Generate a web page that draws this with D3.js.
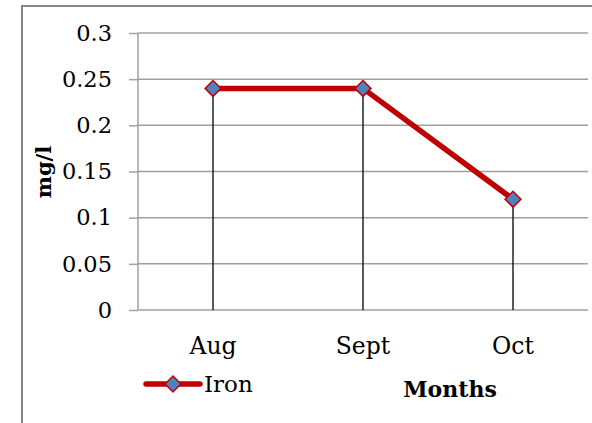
<!DOCTYPE html>
<html>
<head>
<meta charset="utf-8">
<script src="https://cdn.jsdelivr.net/npm/d3@7"></script>
<style>
  body { margin: 0; background: #fff; }
  text { font-family: "DejaVu Serif", serif; fill: #000; }
</style>
</head>
<body>
<div id="chart"></div>
<script>
// chart values
const months = ['Aug', 'Sept', 'Oct'];
const iron = [0.24, 0.24, 0.12];
const yTicks = [0, 0.05, 0.1, 0.15, 0.2, 0.25, 0.3];

const W = 592, H = 423;
const svg = d3.select('#chart').append('svg').attr('width', W).attr('height', H);

// outer chart border (runs off right and bottom edges)
svg.append('rect')
  .attr('x', 22).attr('y', 6)
  .attr('width', 600).attr('height', 440)
  .attr('fill', 'none').attr('stroke', '#878787').attr('stroke-width', 2);

const plotL = 138, plotR = 588, plotT = 33, plotB = 310;

const x = d3.scaleBand().domain(months).range([plotL, plotR]);
const y = d3.scaleLinear().domain([0, 0.3]).range([plotB, plotT]);

// y axis ticks + labels
const yAxis = svg.append('g').attr('transform', 'translate(' + plotL + ',0)')
  .call(d3.axisLeft(y).tickValues(yTicks).tickSize(9).tickPadding(17)
    .tickFormat(d => String(+d.toFixed(2))));
yAxis.select('.domain').remove();
yAxis.selectAll('line').attr('stroke', '#a0a0a0').attr('stroke-width', 1.5);
yAxis.selectAll('text').attr('font-size', 22.5).attr('font-family', '"DejaVu Serif", serif');

// gridlines
svg.append('g').selectAll('line').data(yTicks).enter().append('line')
  .attr('x1', plotL).attr('x2', plotR)
  .attr('y1', d => y(d)).attr('y2', d => y(d))
  .attr('stroke', '#a0a0a0').attr('stroke-width', 1.5);

svg.append('line')
  .attr('x1', plotL).attr('x2', plotL).attr('y1', plotT).attr('y2', plotB)
  .attr('stroke', '#a0a0a0').attr('stroke-width', 1.5);

// x labels
svg.append('g').selectAll('text').data(months).enter().append('text')
  .attr('x', d => x(d) + x.bandwidth() / 2)
  .attr('y', 354)
  .attr('text-anchor', 'middle')
  .attr('font-size', 23.5)
  .text(d => d);

const pts = months.map((m, i) => ({ m: m, v: iron[i] }));

// drop lines
svg.append('g').selectAll('line').data(pts).enter().append('line')
  .attr('x1', d => x(d.m) + x.bandwidth() / 2)
  .attr('x2', d => x(d.m) + x.bandwidth() / 2)
  .attr('y1', d => y(d.v)).attr('y2', plotB)
  .attr('stroke', '#000').attr('stroke-width', 1.3);

// series line
const line = d3.line().x(d => x(d.m) + x.bandwidth() / 2).y(d => y(d.v));
svg.append('path').datum(pts)
  .attr('d', line)
  .attr('fill', 'none').attr('stroke', '#c00000').attr('stroke-width', 5.5);

const diamond = d3.symbol().type(d3.symbolDiamond2).size(160);
svg.append('g').selectAll('path').data(pts).enter().append('path')
  .attr('d', diamond)
  .attr('transform', d => 'translate(' + (x(d.m) + x.bandwidth() / 2) + ',' + y(d.v) + ')')
  .attr('fill', '#4f81bd').attr('stroke', '#c00000').attr('stroke-width', 1.5);

// y title
svg.append('text')
  .attr('transform', 'translate(51,172) rotate(-90)')
  .attr('text-anchor', 'middle')
  .attr('font-size', 21).attr('font-weight', 'bold')
  .text('mg/l');

// x title
svg.append('text')
  .attr('x', 450).attr('y', 397)
  .attr('text-anchor', 'middle')
  .attr('font-size', 22).attr('font-weight', 'bold')
  .text('Months');

// legend
svg.append('line')
  .attr('x1', 146).attr('x2', 200).attr('y1', 384).attr('y2', 384)
  .attr('stroke', '#c00000').attr('stroke-width', 5.5).attr('stroke-linecap', 'round');
svg.append('path').attr('d', diamond)
  .attr('transform', 'translate(173,384)')
  .attr('fill', '#4f81bd').attr('stroke', '#c00000').attr('stroke-width', 1.5);
svg.append('text')
  .attr('x', 204).attr('y', 392)
  .attr('font-size', 23)
  .text('Iron');
</script>
</body>
</html>
